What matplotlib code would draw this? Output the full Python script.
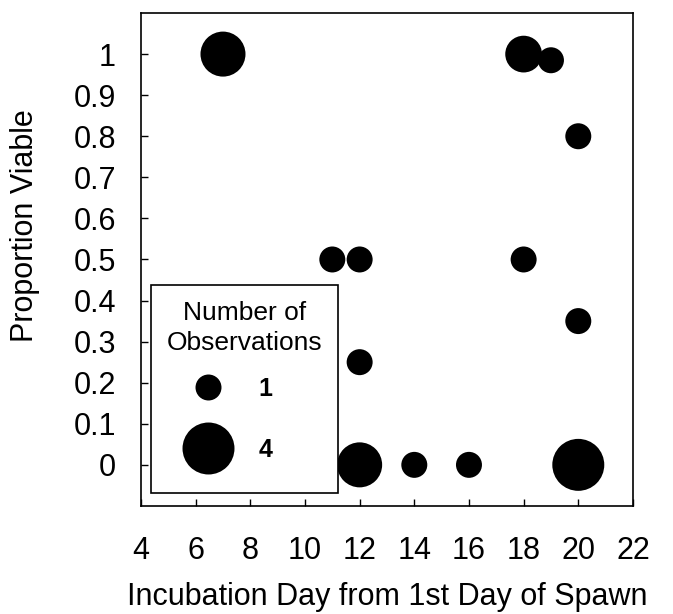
import matplotlib
matplotlib.use('Agg')
import matplotlib.pyplot as plt

plt.rcParams['font.family'] = ['Liberation Sans', 'DejaVu Sans']

# incubation day, proportion viable, number of observations
days = [7, 11, 12, 12, 12, 14, 16, 18, 19, 18, 20, 20, 20]
viable = [1.0, 0.5, 0.5, 0.25, 0.0, 0.0, 0.0, 1.0, 0.985, 0.5, 0.8, 0.35, 0.0]
n_obs = [3, 1, 1, 1, 3, 1, 1, 2, 1, 1, 1, 1, 4]

x_ticks = [4, 6, 8, 10, 12, 14, 16, 18, 20, 22]
y_ticks = [0, 0.1, 0.2, 0.3, 0.4, 0.5, 0.6, 0.7, 0.8, 0.9, 1.0]
legend_counts = [1, 4]

size_per_obs = 350

fig = plt.figure(figsize=(6.73, 6.14), dpi=100)
ax = fig.add_axes([0.2095, 0.176, 0.731, 0.8028])

ax.scatter(days, viable, s=[size_per_obs * n for n in n_obs],
           c='black', linewidths=0, zorder=3)

ax.set_xlim(4, 22)
ax.set_ylim(-0.1, 1.1)
ax.set_xticks(x_ticks)
ax.set_yticks(y_ticks)
ax.set_yticklabels([f'{v:g}' for v in y_ticks])
ax.tick_params(axis='x', direction='in', length=5, width=1, labelsize=22, pad=21.5)
ax.tick_params(axis='y', direction='in', length=5, width=1, labelsize=22, pad=18)
for sp in ax.spines.values():
    sp.set_linewidth(1.2)

ax.set_xlabel('Incubation Day from 1st Day of Spawn', fontsize=22, va='center')
ax.xaxis.set_label_coords(0.5, -0.184)
ax.set_ylabel('Proportion Viable', fontsize=22, va='center')
ax.yaxis.set_label_coords(-0.236, 0.568)

# legend with bubble sizes
handles = [ax.scatter([], [], s=size_per_obs * n, c='black', linewidths=0)
           for n in legend_counts]
leg = ax.legend(handles, [str(n) for n in legend_counts],
                title='Number of\nObservations', title_fontsize=19,
                prop={'size': 18, 'weight': 'bold'},
                loc='lower left', bbox_to_anchor=(0.02, 0.026), borderaxespad=0,
                fancybox=False, edgecolor='black', framealpha=1,
                handlelength=3.28, handleheight=3.0, handletextpad=0.4,
                labelspacing=0.25, borderpad=0.64, alignment='left',
                scatteryoffsets=[0.16])
leg.get_title().set_multialignment('center')
leg.get_title().set_linespacing(1.3)
leg.get_frame().set_linewidth(1.2)

fig.savefig('out.png', dpi=100)
